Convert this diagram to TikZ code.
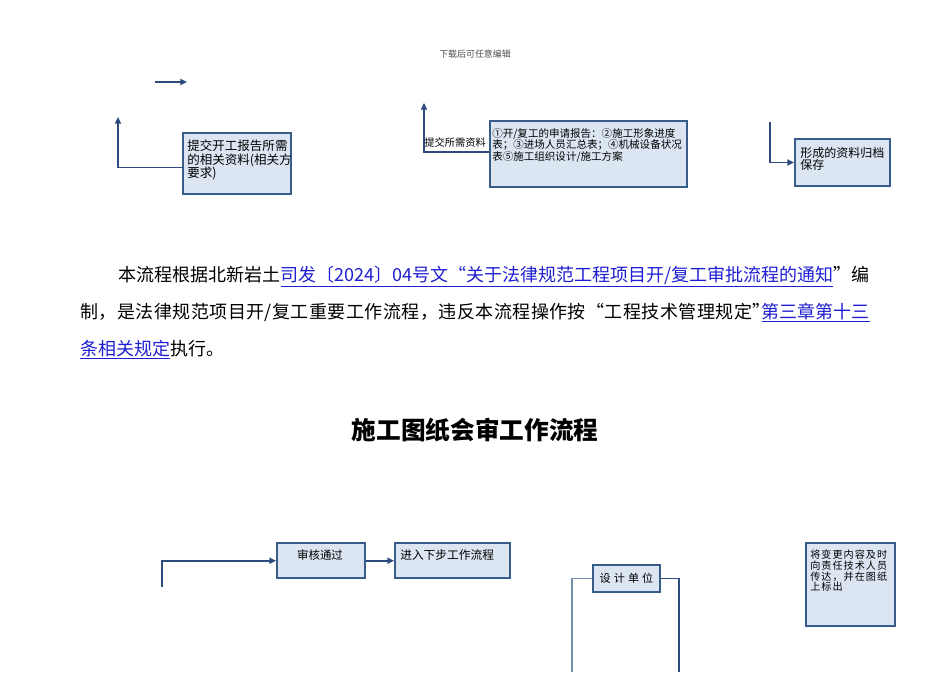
\documentclass[tikz,border=0pt]{standalone}
\usepackage{fontspec}
\setmainfont{Noto Sans CJK SC}
\newfontfamily\spacedcjk[LetterSpace=10]{Noto Sans CJK SC}
\newfontfamily\widecjk[LetterSpace=28]{Noto Sans CJK SC}
\newfontfamily\loosecjk[LetterSpace=2.6]{Noto Sans CJK SC}
\usetikzlibrary{arrows.meta}
\XeTeXlinebreaklocale "zh"
\XeTeXlinebreakskip=0pt plus 3pt minus 0.6pt
\definecolor{boxline}{RGB}{56,93,138}
\definecolor{boxfill}{RGB}{220,230,242}
\definecolor{flowline}{RGB}{45,75,125}
\definecolor{linkblue}{RGB}{30,30,210}
\newcommand*\linktext[1]{\textcolor{linkblue}{\underline{#1}}}
\newcommand*\spread[2]{\hbox to #1{#2}}
\tikzset{flow/.cd,
         box/.style={draw=boxline,fill=boxfill,line width=1.5pt,rectangle,inner sep=0pt},
         words/.style={inner sep=0pt,align=left},
         link/.style={draw=flowline,line width=1.2pt},
         arrow/.style={flow/link,-{Triangle[length=5pt,width=4.5pt]}},
         para/.style={inner sep=0pt,font=\fontsize{13.5pt}{16pt}\selectfont}}

\begin{document}
\begin{tikzpicture}[x=0.75pt,y=-0.75pt]
\useasboundingbox (0,0) rectangle (950,672);
\node[font=\fontsize{6.7pt}{7pt}\selectfont,text=black!70] (header) at (475,54) {下载后可任意编辑};
% upper flow
\coordinate (lone start) at (155,82);
\coordinate (lone end) at (187,82);
\draw[flow/arrow] (lone start) -- (lone end);
\node[flow/box,anchor=north west,minimum width=81pt,minimum height=46pt] (submit) at (182,132) {};
\node[flow/words,anchor=north west,font=\fontsize{9.4pt}{10.1pt}\selectfont] (submit text) at (187,140)
     {提交开工报告所需\\的相关资料(相关方\\要求)};
\coordinate (submit up) at (118,117);
\draw[flow/arrow] ([yshift=-3pt]submit.west) -| (submit up);
\node[flow/box,anchor=north west,minimum width=148pt,minimum height=49.5pt] (docs) at (489,120) {};
\node[flow/words,anchor=north west,font=\fontsize{7.9pt}{8.8pt}\selectfont] (docs text) at (492,128)
     {①开/复工的申请报告：②施工形象进度\\表；③进场人员汇总表；④机械设备状况\\表⑤施工组织设计/施工方案};
\coordinate (docs up) at (424,103);
\draw[flow/arrow] ([yshift=1.5pt]docs.west) -| (docs up);
\node[flow/words,anchor=west,font=\fontsize{7.7pt}{8pt}\selectfont] (docs label) at (424,143) {提交所需资料};
\node[flow/box,anchor=north west,minimum width=71.25pt,minimum height=35.25pt] (archive) at (794,138) {};
\node[flow/words,anchor=north west,font=\fontsize{9pt}{9.2pt}\selectfont] (archive text) at (800,147)
     {形成的资料归档\\保存};
\coordinate (archive top) at (770,122);
\draw[flow/arrow] (archive top) |- (archive.west);
% paragraph
\node[flow/para,anchor=base west] (rule a) at (118,281) {本流程根据北新岩土};
\node[flow/para,anchor=base west] (rule b) at (rule a.base east)
     {\linktext{\spread{414pt}{司发〔2024〕04号文“关于法律规范工程项目开/复工审批流程的通知}}};
\node[flow/para,anchor=base west] (rule c) at (rule b.base east) {”编};
\node[flow/para,anchor=base west,font=\loosecjk\fontsize{13.5pt}{16pt}\selectfont] (rule d) at (80,318)
     {制，是法律规范项目开/复工重要工作流程，违反本流程操作按“工程技术管理规定”};
\node[flow/para,anchor=base east] (rule e) at (870,318) {\linktext{第三章第十三}};
\node[flow/para,anchor=base west] (rule f) at (80,355) {\linktext{条相关规定}};
\node[flow/para,anchor=base west] (rule g) at (rule f.base east) {执行。};
\node[font=\fontsize{18.5pt}{20pt}\selectfont\bfseries] (title) at (475,430) {施工图纸会审工作流程};
% lower flow
\node[flow/box,anchor=north west,minimum width=66pt,minimum height=26.6pt] (audit) at (276,542) {};
\node[flow/words,font=\fontsize{8.6pt}{9pt}\selectfont] (audit text) at (320,555) {审核通过};
\node[flow/box,anchor=north west,minimum width=86.25pt,minimum height=26.6pt] (next) at (394,542) {};
\node[flow/words,anchor=west,font=\fontsize{8.8pt}{9pt}\selectfont] (next text) at (400,555) {进入下步工作流程};
\coordinate (audit foot) at (162,587);
\draw[flow/arrow] (audit foot) |- (audit.west);
\draw[flow/arrow] (audit.east) -- (next.west);
\node[flow/box,anchor=north west,minimum width=50.25pt,minimum height=20.25pt,
      font=\widecjk\fontsize{8.3pt}{9pt}\selectfont] (design) at (592,564) {设计单位};
\coordinate (design left foot) at (572,672);
\coordinate (design right foot) at (679,672);
\draw[flow/link,draw=boxline!70] (design left foot) |- (design.west);
\draw[flow/link] (design.east) -| (design right foot);
\node[flow/box,anchor=north west,minimum width=66.75pt,minimum height=62.25pt] (notify) at (805,542) {};
\node[flow/words,anchor=north west,font=\spacedcjk\fontsize{7.6pt}{8pt}\selectfont] (notify text) at (810,550)
     {将变更内容及时\\向责任技术人员\\传达，并在图纸\\上标出};
\end{tikzpicture}
\end{document}
